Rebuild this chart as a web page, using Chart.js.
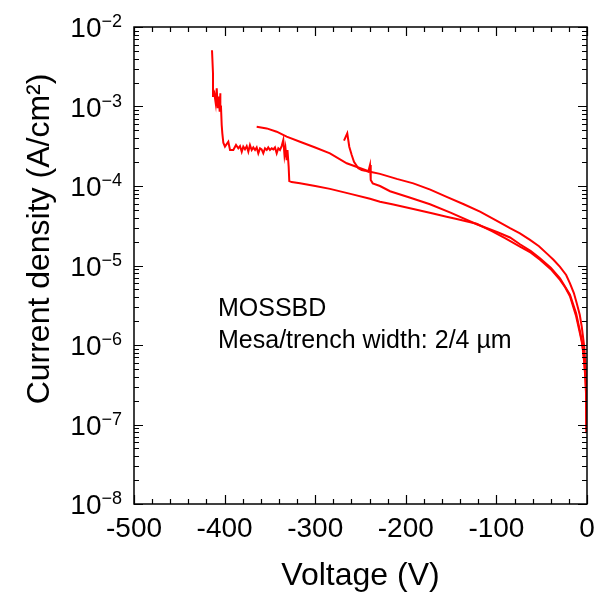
<!DOCTYPE html>
<html>
<head>
<meta charset="utf-8">
<script src="https://cdn.jsdelivr.net/npm/chart.js@4"></script>
<style>
  html, body { margin: 0; padding: 0; background: #fff; }
  #wrap { width: 604px; height: 595px; }
</style>
</head>
<body>
<div id="wrap"><canvas id="chart1"></canvas></div>
<script>
// axis ranges
const xMin = -500, xMax = 0, xStep = 100;
const yExpMin = -8, yExpMax = -2;

// lower sweep: 0 V out to breakdown at about -414 V
const lowerV = [-0.3, -0.6, -1.0, -1.7, -2.8, -4.1, -5.8, -7.8, -12, -18.8, -24, -29.8, -40, -51.9, -62, -74, -90, -105,
  -121.8, -143.8, -155, -170, -191.7, -215, -228.5, -239.5, -260, -283.7, -300, -316.8, -326, -328.6,
  -329.3, -330.6, -331.5, -332.8, -333.9, -335.2, -337.0, -338.9, -340.7, -342.5, -344.4, -346.2, -348.0,
  -349.9, -351.8, -353.5, -355.4, -357.3, -359.1, -360.9, -362.8, -364.6, -366.4, -368.3, -370.1, -372.0,
  -373.8, -375.6, -377.5, -379.4, -381.1, -383.0, -384.9, -387.4, -390.4, -394.0, -395.9, -399.6, -401.4,
  -402.5, -403.2, -404.0, -404.7, -405.4, -406.5, -407.6, -408.7, -409.8, -411.4, -412.5, -412.8, -413.9];
const lowerJ = [8e-8, 1.2e-7, 2.2e-7, 3.6e-7, 5.5e-7, 7.9e-7, 1.1e-6, 1.4e-6, 2.3e-6, 4.1e-6, 5.3e-6, 6.6e-6, 9.0e-6, 1.18e-5, 1.45e-5, 1.73e-5, 2.2e-5, 2.7e-5,
  3.35e-5, 3.85e-5, 4.1e-5, 4.5e-5, 5.15e-5, 5.9e-5, 6.35e-5, 6.9e-5, 7.9e-5, 9.2e-5, 1.0e-4, 1.08e-4, 1.12e-4, 1.15e-4,
  1.75e-4, 2.84e-4, 2.12e-4, 3.0e-4, 2.45e-4, 3.8e-4, 3.18e-4, 2.84e-4, 2.98e-4, 2.58e-4, 3.06e-4, 2.89e-4, 2.98e-4,
  2.84e-4, 3.06e-4, 2.84e-4, 2.98e-4, 2.58e-4, 2.89e-4, 2.98e-4, 2.58e-4, 3.06e-4, 2.84e-4, 3.06e-4, 2.84e-4, 3.28e-4,
  2.70e-4, 3.18e-4, 2.89e-4, 3.13e-4, 2.70e-4, 3.18e-4, 2.98e-4, 3.28e-4, 2.84e-4, 2.84e-4, 3.6e-4, 3.13e-4, 3.5e-4,
  4.6e-4, 5.85e-4, 1.0e-3, 1.47e-3, 8.6e-4, 1.33e-3, 9.5e-4, 1.69e-3, 1.1e-3, 1.47e-3, 1.36e-3, 2.6e-3, 5.1e-3];

// middle sweep: starts with the hook near -268 V, jumps at -240 V
const midV = [-268.2, -264.6, -262.4, -259.7, -257.2, -252.4, -248.7, -245.0, -241.4, -239.5, -238.7, -236.5, -228.5,
  -217.4, -195, -173.3, -150, -121.8, -98, -85, -74, -62, -51.9, -40, -29.8, -18.8, -12, -7.8, -5.8, -4.1, -2.8, -1.7, -1.0, -0.6, -0.3];
const midJ = [3.72e-4, 4.6e-4, 3.12e-4, 2.45e-4, 2.02e-4, 1.67e-4, 1.59e-4, 1.56e-4, 1.51e-4, 1.84e-4, 1.19e-4, 1.08e-4, 1.0e-4,
  8.6e-5, 7.1e-5, 5.9e-5, 4.6e-5, 3.3e-5, 2.6e-5, 2.25e-5, 1.85e-5, 1.52e-5, 1.23e-5, 9.4e-6, 6.9e-6, 4.3e-6, 2.5e-6, 1.5e-6, 1.15e-6, 8.3e-7, 5.8e-7, 3.8e-7, 2.3e-7, 1.3e-7, 8.5e-8];

// upper sweep: from -365 V back to 0
const upV = [-364.6, -353.5, -342.5, -331.5, -316.8, -300, -283.7, -265.2, -239.5, -228.5, -210, -191.7, -173, -154.9, -136,
  -118.1, -97.9, -85, -74, -62.9, -53, -44.5, -37, -29.8, -23, -18.8, -14.5, -11.4, -8, -5.8, -3, -1.4, -0.9, -0.5];
const upJ = [5.57e-4, 5.3e-4, 4.82e-4, 4.17e-4, 3.6e-4, 3.05e-4, 2.58e-4, 1.93e-4, 1.51e-4, 1.42e-4, 1.23e-4, 1.08e-4, 9.0e-5, 7.3e-5, 5.9e-5,
  4.75e-5, 3.56e-5, 2.95e-5, 2.54e-5, 2.1e-5, 1.75e-5, 1.42e-5, 1.18e-5, 9.6e-6, 7.6e-6, 5.97e-6, 4.5e-6, 3.37e-6, 2.4e-6, 1.7e-6, 9.5e-7, 4.9e-7, 2e-7, 9e-8];

const noteLines = ['MOSSBD', 'Mesa/trench width: 2/4 \u00b5m'];
const xTitle = 'Voltage (V)';
const yTitle = 'Current density (A/cm\u00b2)';

const FONT = "'Liberation Sans', Arial, sans-serif";
Chart.defaults.font.family = FONT;
Chart.defaults.color = '#000';

function pairs(xs, ys) {
  return xs.map((v, i) => ({x: v, y: ys[i]}));
}

function curve(xs, ys) {
  return {
    data: pairs(xs, ys),
    borderColor: 'rgb(255, 0, 0)',
    borderWidth: 2,
    pointRadius: 0,
    tension: 0,
    fill: false
  };
}

// frame, inward ticks, 10^n labels, y title and the note
const decorations = {
  id: 'decorations',
  afterDraw(chart) {
    const {ctx, chartArea: a, scales: {x, y}} = chart;
    ctx.save();
    ctx.strokeStyle = '#000';
    ctx.lineWidth = 1.5;
    ctx.strokeRect(a.left, a.top, a.right - a.left, a.bottom - a.top);

    ctx.lineWidth = 1.2;
    ctx.beginPath();
    for (let v = xMin; v <= xMax; v += 20) {
      const px = Math.round(x.getPixelForValue(v)) + 0.5;
      const len = v % xStep === 0 ? 9 : 5;
      ctx.moveTo(px, a.bottom); ctx.lineTo(px, a.bottom - len);
      ctx.moveTo(px, a.top); ctx.lineTo(px, a.top + len);
    }
    for (let e = yExpMin; e <= yExpMax; e++) {
      for (let k = 1; k <= 9; k++) {
        if (e === yExpMax && k > 1) break;
        const py = Math.round(y.getPixelForValue(k * Math.pow(10, e))) + 0.5;
        const len = k === 1 ? 9 : 5;
        ctx.moveTo(a.left, py); ctx.lineTo(a.left + len, py);
        ctx.moveTo(a.right, py); ctx.lineTo(a.right - len, py);
      }
    }
    ctx.stroke();

    // y tick labels with superscript exponent
    ctx.fillStyle = '#000';
    ctx.textBaseline = 'alphabetic';
    for (let e = yExpMin; e <= yExpMax; e++) {
      const py = y.getPixelForValue(Math.pow(10, e));
      const exp = '\u2212' + Math.abs(e);
      ctx.font = '18px ' + FONT;
      const ew = ctx.measureText(exp).width;
      const right = a.left - 12;
      ctx.textAlign = 'left';
      ctx.fillText(exp, right - ew, py);
      ctx.font = '28px ' + FONT;
      ctx.textAlign = 'right';
      ctx.fillText('10', right - ew, py + 10);
    }

    // y axis title
    ctx.save();
    ctx.translate(49, 239);
    ctx.rotate(-Math.PI / 2);
    ctx.font = '32px ' + FONT;
    ctx.textAlign = 'center';
    ctx.fillText(yTitle, 0, 0);
    ctx.restore();

    // note inside plot
    ctx.font = '25px ' + FONT;
    ctx.textAlign = 'left';
    noteLines.forEach((t, i) => ctx.fillText(t, 218, 316 + i * 32));
    ctx.restore();
  }
};

const ctx = document.getElementById('chart1');

const myChart = new Chart(ctx, {
  type: 'line',
  data: {
    datasets: [curve(lowerV, lowerJ), curve(midV, midJ), curve(upV, upJ)]
  },
  options: {
    responsive: true,
    maintainAspectRatio: false,
    animation: false,
    layout: { padding: { top: 27, right: 17, left: 0, bottom: 0 } },
    plugins: { legend: { display: false }, tooltip: { enabled: false } },
    scales: {
      x: {
        type: 'linear',
        min: xMin,
        max: xMax,
        grid: { display: false, drawTicks: false },
        border: { display: false },
        ticks: {
          stepSize: xStep,
          maxRotation: 0,
          autoSkip: false,
          padding: 8,
          font: { size: 28 },
          color: '#000'
        },
        title: {
          display: true,
          text: xTitle,
          font: { size: 32 },
          color: '#000',
          padding: { top: 0, bottom: 0 }
        },
        afterFit: s => { s.height = 91; }
      },
      y: {
        type: 'logarithmic',
        min: Math.pow(10, yExpMin),
        max: Math.pow(10, yExpMax),
        grid: { display: false, drawTicks: false },
        border: { display: false },
        ticks: { display: false },
        afterFit: s => { s.width = 134; }
      }
    }
  },
  plugins: [decorations]
});
</script>
</body>
</html>
